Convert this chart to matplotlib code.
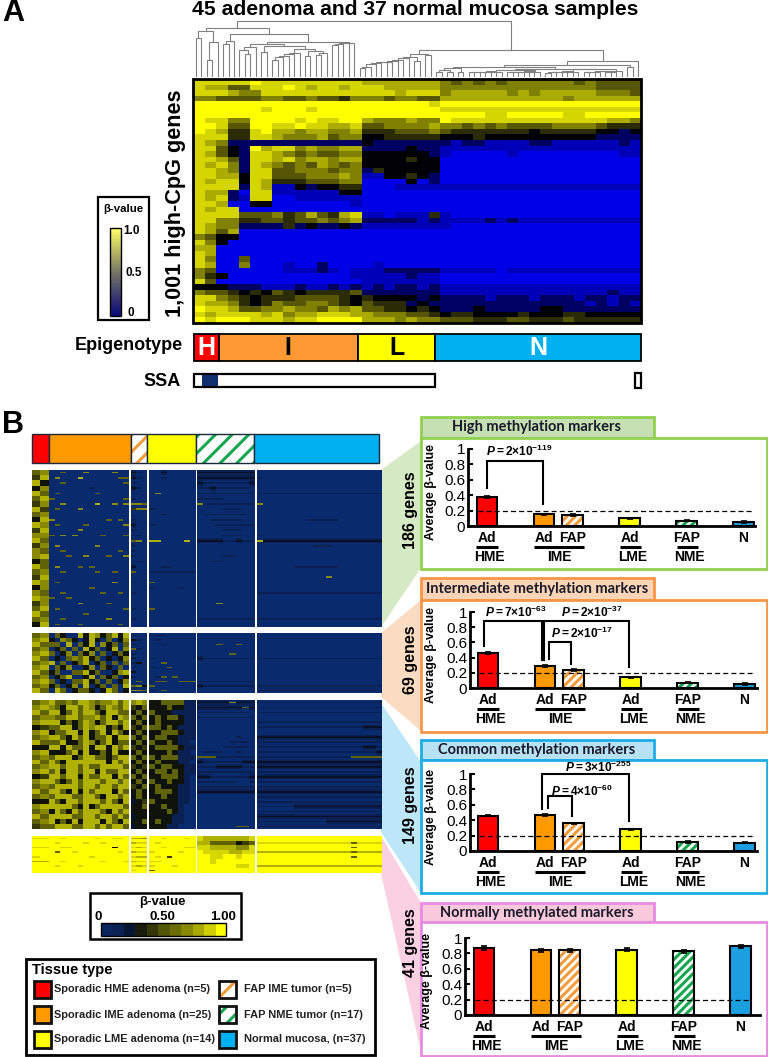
import numpy as np
import matplotlib
matplotlib.use('Agg')
import matplotlib.pyplot as plt
from matplotlib.colors import LinearSegmentedColormap
from matplotlib.patches import Rectangle, Polygon
from matplotlib.transforms import blended_transform_factory

plt.rcParams['font.family'] = ['Liberation Sans', 'DejaVu Sans']
plt.rcParams['mathtext.fontset'] = 'custom'
plt.rcParams['mathtext.rm'] = 'Liberation Sans:bold'
plt.rcParams['mathtext.it'] = 'Liberation Sans:italic:bold'
plt.rcParams['mathtext.bf'] = 'Liberation Sans:bold'
plt.rcParams['hatch.linewidth'] = 2.2

# Bar values
bar_labels = ['Ad', 'Ad', 'FAP', 'Ad', 'FAP', 'N']
group_labels = ['HME', 'IME', 'LME', 'NME']
high_vals = [0.38, 0.15, 0.14, 0.10, 0.07, 0.05]
inter_vals = [0.46, 0.29, 0.24, 0.14, 0.07, 0.05]
common_vals = [0.46, 0.47, 0.36, 0.28, 0.12, 0.11]
normal_vals = [0.87, 0.84, 0.84, 0.85, 0.83, 0.89]
high_errs = [0.01, 0.01, 0.01, 0.01, 0.01, 0.01]
normal_errs = [0.02, 0.02, 0.02, 0.02, 0.02, 0.02]

legend_labels = ['Sporadic HME adenoma (n=5)', 'Sporadic IME adenoma (n=25)', 'Sporadic LME adenoma (n=14)',
                 'FAP IME tumor (n=5)', 'FAP NME tumor (n=17)', 'Normal mucosa, (n=37)']

# Heatmap A, coarse reading of the picture, 0 = blue, 9 = yellow
# columns: H, I, L, N
heat_a = [
    "88 8889888888888 7777777 656565666666565555",
    "87 7558889878878 8877777 666666666666665555",
    "88 8766888888888 8887888 677777676777776665",
    "66 5555665565546 6656655 777777777776777777",
    "99 9999999999999 9999998 999999999999999999",
    "99 9999899989999 9999999 888888888888888888",
    "99 9999999999999 9999999 999988999998899999",
    "98 8669999898899 7666766 988888888888888776",
    "99 8559988988778 5566667 665656555566665444",
    "98 7448977677667 4445556 544444443444443323",
    "88 8448876667566 3344444 333433333333332222",
    "87 6222222222222 3222222 212211112211111121",
    "88 5329788676677 2222322 111111111111111111",
    "87 5328876565566 3333332 100000100000000011",
    "88 7528878677677 3333433 000000000000000000",
    "87 8628765657656 3333333 000000000000000000",
    "88 7628855666566 2433333 000000000000000000",
    "88 7738855566676 1133432 000000000000000000",
    "87 8838744455566 0000302 000000000000000000",
    "88 8828711323344 0001111 111111111111111111",
    "87 7208811111133 0000000 000000000000000000",
    "87 8218800111111 0000000 000000000000000000",
    "88 7003300000001 0000000 000000000000000000",
    "87 8800000000000 0000000 000000000000000000",
    "88 8855564575478 1101114 100000000000000000",
    "88 6644554556567 2222212 111121211111111111",
    "87 6622224232232 1111111 100000000000000000",
    "87 5700000000000 0000000 000000000000000000",
    "65 3300000000000 0000000 000000000000000000",
    "86 3000000000000 0000000 000000000000000000",
    "77 0000000000000 0000000 000000000000000000",
    "87 0000000000000 0000000 000000000000000000",
    "86 0050000000000 0000000 000000000000000000",
    "87 0060001002000 0100000 000000000000000000",
    "65 0000001112101 1122222 111110111111111111",
    "64 3000000000001 1111211 000000000000000000",
    "85 0000000000000 1111111 000000000000000000",
    "33 3222111211212 1212212 111111111111111111",
    "65 5434354344445 2222222 111111111111111211",
    "88 6543444555543 4333323 222212221222122122",
    "87 7643465566543 5444232 222222222222212121",
    "98 8755667665767 5544343 222322222332222222",
    "87 8888786778887 7666554 344333343334433333",
    "98 9998887889999 7776766 555444554445444444",
]

# Heatmap B blocks, columns: HME, IME, FAP IME, LME, FAP NME, normal
block_high = [
    "56 00500060000600 210 00200000 222222222 00000000000000000000",
    "47 06000700000055 210 00100000 222222222 10000000000000000000",
    "73 00500000000005 100 00000000 211111112 00000000000000000000",
    "36 00000001000000 210 00000000 112111110 00000000000000000000",
    "75 05000000500000 000 06000000 111111111 11111111111111111111",
    "57 50000000000005 100 00000000 111100000 00000000000000000000",
    "46 00600000700606 665 00000000 611111111 60000000000000000000",
    "74 05000600000000 466 10000000 000011100 00000000000000000000",
    "56 00000000000000 000 00100000 011111110 00000000000000000000",
    "37 60000000005050 100 00000000 001111100 00000000111110000000",
    "76 05000050000006 200 10000000 000111111 00000000000000000000",
    "47 00000600000000 100 00000000 000011100 00000000000000000000",
    "66 50606000050005 110 00000000 000011100 10000000000000000000",
    "75 00000000000000 560 77000070 222211211 72222222222222222222",
    "46 06000000600000 100 00000000 000000000 00000000011100000000",
    "65 00500000000050 100 00000000 000000000 00000000000000000000",
    "67 00050060005006 100 00000000 000011000 00000000000000000000",
    "35 00000000000000 111 00000000 001100000 00000000000000000000",
    "75 06000505000000 200 00110000 000000000 00000011111110000000",
    "56 00500000500500 500 11111111 000000000 00000000000000000000",
    "47 00000000000000 000 00000000 000000000 00000000000600000000",
    "76 05000000000600 100 50000000 000000000 00000000000000000000",
    "36 00000005000000 000 10000100 000000000 00000000000000000000",
    "65 00500000050050 100 00000000 000000000 11111111111111111111",
    "76 50050000000000 000 00000000 000000000 00000000000000000000",
    "46 00000600005000 000 00000000 000600000 00000000000000000000",
    "57 05000000000005 100 50000000 000000000 00000000000000000000",
    "75 00000050000000 000 00000000 000000000 00000000000000000000",
    "56 00500000006000 100 00000000 111111111 11111111111111111111",
    "37 05000500000050 000 00000000 000000000 00000000000000000000",
]
block_inter = [
    "56 05300737635737 100 11100000 000000000 00000000000000000000",
    "67 30653027305036 310 01000000 000000000 00000000000000000000",
    "75 55070537063505 100 00100000 000500500 00000000000000000000",
    "56 03505073503706 510 00000000 000000000 00000000000000000000",
    "67 50360536050353 100 00000000 000005000 00000000000000000000",
    "75 03056573503036 300 10000000 211111111 11111111111111111111",
    "56 70503570350505 130 00500000 000000000 00000000000000000000",
    "67 05360036053050 100 10050000 000000000 00000000000000000000",
    "75 35005573500367 300 00000000 000000000 00000000000000000000",
    "56 03570037053503 100 01505000 000000000 00000000000000000000",
    "67 50305573505036 050 15500555 111111111 00000000000000000000",
    "56 35036070350507 563 50000000 211111111 11111111111111111111",
    "75 07503553037503 665 10500000 000000000 11111111111111111111",
]
block_common = [
    "56 75565776566757 676 33555511 222226222 11111111111111111111",
    "67 65377576357657 435 33353311 222222252 11111111111111111111",
    "75 77357577537755 353 53331111 111111110 11111111111111111111",
    "56 65577566757376 535 35355311 111111111 00000000000000000000",
    "67 77353576357757 353 35333311 000000000 11111111111111111111",
    "34 55773576773537 435 55353111 000000000 11111111111111111222",
    "67 35577373573753 353 33555311 000000000 00000000000000000000",
    "56 77537573557377 535 35533111 000000100 22222222222222222222",
    "75 55733576357355 353 53353110 000001110 11111111111111111111",
    "33 77375573773757 434 35555311 000011110 11111111111111111221",
    "67 33357373353733 353 33353110 011100100 11111111111111111112",
    "56 57773577553577 535 53555111 555111111 11111111111111155555",
    "75 75377777773757 353 35333110 211111122 22222222222222222222",
    "56 77577575577775 434 53553311 111222211 22222222222222222222",
    "67 57377577375577 353 35535311 111111111 11111111111111111111",
    "34 77577375577375 535 33555310 221111112 22222222222222222222",
    "67 75357577757757 353 53353310 111111001 11111111111111111111",
    "56 57777577577577 435 35333110 111111111 11111111111111111111",
    "75 77537375777375 353 35553110 222222222 22222222222222222222",
    "56 57775577537757 353 33533110 000000000 11111111111111111111",
    "33 75377577757537 234 53333110 000000000 11111111111111111111",
    "67 77775373577775 335 33533100 000000000 11111122222222222222",
    "56 37537577753757 333 33353100 000000000 11111111111111111111",
    "75 77775577577575 233 33331100 000000000 22222222222222222222",
    "56 73537377737537 335 35331100 000000000 11111111111222222222",
    "45 57775577575775 233 33311000 000000550 11111111111111111111",
]
block_normal = [
    "88 99899999899889 776 99899989 877777778 99999999999999999999",
    "99 98999989989999 788 98999999 775555345 88888888888888858888",
    "88 99889999999399 878 99899988 887777668 99999999999999959999",
    "99 95998999999989 788 89999899 988887788 77777777777777757777",
    "89 99999998999999 877 98949999 998899899 99999999999999959999",
    "77 99899999989998 788 88999999 998999999 99999999999999999999",
    "99 98999899999999 878 89998999 999999889 77777777777777777777",
    "99 99999999999999 899 59999999 999999999 99999999999999999999",
]


# Dendrogram as a nested tree, heights in picture units, leaves are 0
def comb(heights):
    node = (heights[0], 0, 0)
    for h in heights[1:]:
        node = (h, node, 0)
    return node


tree_h = (136, (115, 0, 0), (101, (48, 0, 0), 0))
tree_i1 = (105, (95, 0, 0), 0)
tree_i2 = (87, (78, 0, (66, 0, 0)), 0)
tree_i3 = (90, (71, 0, 0), (80, comb([48, 58, 61, 65, 68]), (75, (61, 0, 0), (70, (63, 0, 0), 0))))
tree_i4 = comb([92, 95, 98, 100])
tree_i = (125, tree_i1, (103, (97, tree_i2, tree_i3), tree_i4))
tree_adn = (145, tree_h, tree_i)
tree_l = comb([23, 28, 35, 38, 41, 43, 45, 48, 53])
tree_l = (65, (58, tree_l, (45, 0, 0)), (63, 0, 0))
tree_n1 = (25, (18, (11, 0, 0), (13, 0, 0)), (13, 0, 0))
tree_n2 = comb([11, 12, 13, 12, 14, 13])
tree_n3 = comb([11, 13, 11, 12, 14, 13])
tree_n4 = comb([10, 12, 11, 13, 15, 12])
tree_n5 = comb([11, 12, 13, 15, 16, 12, 14])
tree_n6 = (22, (19, tree_n2, tree_n3), (21, tree_n4, tree_n5))
tree_n = (45, (33, (26, tree_n1, tree_n6), (28, 0, 0)), 0)
tree_b = (78, tree_l, tree_n)
tree_root = (166, tree_adn, tree_b)

W, H = 768, 1057
fig = plt.figure(figsize=(W / 100, H / 100), dpi=100)
ax = fig.add_axes([0, 0, 1, 1])
ax.set_axis_off()

cmap_a = LinearSegmentedColormap.from_list('bky', [(0, '#0000e6'), (0.12, '#0000b4'), (0.33, '#000008'), (1, '#ffff00')])
cmap_b = LinearSegmentedColormap.from_list('nky', [(0, '#0a2a6e'), (0.12, '#0a2050'), (0.3, '#05080c'), (1, '#ffff00')])


def grid(rows, group=None):
    parts = [r.split() for r in rows]
    if group is None:
        return np.array([[int(c) for c in ''.join(p)] for p in parts])
    return np.array([[int(c) for c in p[group]] for p in parts])


def thin_rows(cells, base=0):
    # streaks in the picture are about a third of a typed row tall
    out = []
    for row in cells:
        low = np.where(row == 2, 1, base)
        out.extend([low, row, low])
    return np.array(out)


# Panel A
ax.imshow(grid(heat_a), cmap=cmap_a, vmin=0, vmax=9, aspect='auto', extent=(194, 641, 323, 79),
          interpolation='nearest', zorder=2)
ax.add_patch(Rectangle((193, 79), 448, 244, fill=False, ec='black', lw=2, zorder=3))


def draw_tree(node):
    if node == 0:
        x = draw_tree.next_x
        draw_tree.next_x += 448 / 82
        return x, 0
    h, left, right = node
    x1, h1 = draw_tree(left)
    x2, h2 = draw_tree(right)
    y = 76 - h / 3
    ax.plot([x1, x1, x2, x2], [76 - h1 / 3, y, y, 76 - h2 / 3], color='#808080', lw=0.8, solid_joinstyle='miter')
    return (x1 + x2) / 2, h


draw_tree.next_x = 193 + 448 / 164
draw_tree(tree_root)

ax.text(415, 9.5, '45 adenoma and 37 normal mucosa samples', ha='center', va='center', fontsize=15.2, fontweight='bold')
ax.text(2, 13, 'A', ha='left', va='center', fontsize=22, fontweight='bold')
ax.text(2, 425, 'B', ha='left', va='center', fontsize=22, fontweight='bold')
ax.text(175, 203, '1,001 high-CpG genes', rotation=90, ha='center', va='center', fontsize=15.6, fontweight='bold')

# small colour key of panel A
ax.add_patch(Rectangle((98, 197), 51, 123, fc='white', ec='black', lw=1.6))
ax.text(123.5, 209, '\u03b2-value', ha='center', va='center', fontsize=8.2, fontweight='bold')
ax.imshow(np.linspace(1, 0, 64).reshape(-1, 1), aspect='auto', extent=(110, 121, 316, 228),
          cmap=LinearSegmentedColormap.from_list('k', ['#0a0a7a', '#777766', '#ffff66']), zorder=2)
ax.add_patch(Rectangle((110, 228), 11, 88, fill=False, ec='black', lw=1, zorder=3))
ax.text(123, 231, '1.0', ha='left', va='center', fontsize=8.5, fontweight='bold')
ax.text(125, 273, '0.5', ha='left', va='center', fontsize=8.5, fontweight='bold')
ax.text(127, 313, '0', ha='left', va='center', fontsize=8.5, fontweight='bold')

# epigenotype bar
ax.add_patch(Rectangle((194, 334), 25, 27, fc='#ff0000', ec='black', lw=1.3))
ax.add_patch(Rectangle((219, 334), 139, 27, fc='#ff9933', ec='black', lw=1.3))
ax.add_patch(Rectangle((358, 334), 77, 27, fc='#ffff00', ec='black', lw=1.3))
ax.add_patch(Rectangle((435, 334), 206, 27, fc='#00b0f0', ec='black', lw=1.3))
for lab, x, col in [('H', 206.5, 'white'), ('I', 288, 'black'), ('L', 397, 'black'), ('N', 538, 'white')]:
    ax.text(x, 348, lab, ha='center', va='center', fontsize=18, fontweight='bold', color=col)
ax.text(183, 346, 'Epigenotype', ha='right', va='center', fontsize=13, fontweight='bold')
ax.text(181, 382, 'SSA', ha='right', va='center', fontsize=13, fontweight='bold')
ax.add_patch(Rectangle((194, 374), 241, 13, fc='white', ec='black', lw=1.6))
ax.add_patch(Rectangle((202, 375), 16, 11, fc='#0f2f6f', ec='none'))
ax.add_patch(Rectangle((635, 373), 6, 15, fc='white', ec='black', lw=1.6))

# Panel B top bar
tops = [(31.5, 49, '#ff0000', None), (49, 131, '#ff9900', None), (131, 147, 'white', '#f39c3c'),
        (147, 196, '#ffff00', None), (196, 254, 'white', '#15a650'), (254, 379, '#00b0f0', None)]
for x1, x2, col, hatch_col in tops:
    if hatch_col:
        ax.add_patch(Rectangle((x1, 434), x2 - x1, 29, fc='white', ec=hatch_col, lw=0, hatch='//'))
        ax.add_patch(Rectangle((x1, 434), x2 - x1, 29, fill=False, ec='#1a2a3a', lw=1))
    else:
        ax.add_patch(Rectangle((x1, 434), x2 - x1, 29, fc=col, ec='#1a2a3a', lw=1))

# Panel B heatmap blocks
group_edges = [(31.5, 48), (49, 128.5), (131, 147), (148.5, 195), (197, 254.5), (256.5, 381)]
blocks = [(block_high, 470, 627, [1, 2, 3, 4, 5], 0), (block_inter, 633, 693, [2, 3, 4, 5], 0),
          (block_common, 700, 829, [4, 5], 0), (block_normal, 836, 873, [0, 1, 2, 3, 5], 9)]
for rows, y1, y2, thin_groups, base in blocks:
    for g, (x1, x2) in enumerate(group_edges):
        cells = grid(rows, g)
        if g in thin_groups:
            cells = thin_rows(cells, base)
        ax.imshow(cells, cmap=cmap_b, vmin=0, vmax=9, aspect='auto', extent=(x1, x2, y2, y1),
                  interpolation='nearest', zorder=2)

# wedges from blocks to the panels
wedges = [([(381, 470), (421, 441), (421, 568), (381, 627)], '#d5e9c5'),
          ([(381, 633), (421, 600), (421, 731), (381, 697)], '#fbdcc2'),
          ([(381, 703), (421, 762), (421, 893), (381, 832)], '#bde6f8'),
          ([(381, 836), (421, 903), (421, 1052), (381, 873)], '#fbd0e0')]
for pts, col in wedges:
    ax.add_patch(Polygon(pts, closed=True, fc=col, ec='none', zorder=1))

# beta-value key of panel B
ax.add_patch(Rectangle((90, 893), 151, 46, fc='white', ec='black', lw=1.8))
ax.text(162, 902, '\u03b2-value', ha='center', va='center', fontsize=9.5, fontweight='bold')
ax.text(98, 917, '0', ha='center', va='center', fontsize=9.5, fontweight='bold')
ax.text(162, 917, '0.50', ha='center', va='center', fontsize=9.5, fontweight='bold')
ax.text(223, 917, '1.00', ha='center', va='center', fontsize=9.5, fontweight='bold')
key_colours = np.array([[0.5, 0.9, 1.7, 3.2, 3.9, 4.7, 5.3, 6.0, 6.8, 7.8, 9.0]])
ax.imshow(key_colours, cmap=cmap_b, vmin=0, vmax=9, aspect='auto', extent=(100.5, 226, 936, 923), zorder=2)
ax.add_patch(Rectangle((100.5, 923), 125.5, 13, fill=False, ec='black', lw=1, zorder=3))

# tissue legend
ax.add_patch(Rectangle((26, 959), 349, 96, fc='white', ec='black', lw=2))
ax.text(32, 970, 'Tissue type', ha='left', va='center', fontsize=10.5, fontweight='bold')
swatches = [('#ff0000', None), ('#ff9900', None), ('#ffff00', None), ('white', '#f39c3c'), ('white', '#15a650'),
            ('#00b0f0', None)]
for i, (lab, (col, hatch_col)) in enumerate(zip(legend_labels, swatches)):
    sx = 33.5 if i < 3 else 219
    sy = 981 + 25 * (i % 3)
    tx = 54 if i < 3 else 243.5
    ax.add_patch(Rectangle((sx, sy), 17, 17, fc=col, ec=hatch_col if hatch_col else 'none', lw=0,
                           hatch='//' if hatch_col else None))
    ax.add_patch(Rectangle((sx, sy), 17, 17, fill=False, ec='#111111', lw=2))
    ax.text(tx, sy + 8.5, lab, ha='left', va='center', fontsize=7.9, fontweight='bold', color='#222222')

# Bar panels
panels = [
    dict(name='High methylation markers', col='#92d050', tab='#c6e0b4', tab_y=417, box_y=438, box_h=131, genes='186 genes',
         gene_y=510, vals=high_vals, errs=high_errs, y0=526, y1=449, x0=487, xl=468, xr=755, ly=431,
         brackets=[([0, 0, 1.98, 1.98], [0.5, 0.85, 0.85, 0.29])],
         pvals=[(-0.05, 0.97, r'$\mathit{P}\mathrm{{=}2{\times}10^{-119}}$')]),
    dict(name='Intermediate methylation markers', col='#f79646', tab='#fbd5b5', tab_y=578, box_y=600, box_h=132, genes='69 genes',
         gene_y=660, vals=inter_vals, errs=high_errs, y0=688, y1=612, x0=488, xl=470, xr=757, ly=431,
         brackets=[([-0.14, -0.14, 1.89, 1.89], [0.55, 0.88, 0.88, 0.37]),
                   ([1.98, 1.98, 4.93, 4.93], [0.37, 0.88, 0.88, 0.28]),
                   ([2.14, 2.14, 2.9, 2.9], [0.38, 0.6, 0.6, 0.31])],
         pvals=[(-0.1, 0.99, r'$\mathit{P}\mathrm{{=}7{\times}10^{-63}}$'),
                (2.55, 0.99, r'$\mathit{P}\mathrm{{=}2{\times}10^{-37}}$'),
                (2.2, 0.72, r'$\mathit{P}\mathrm{{=}2{\times}10^{-17}}$')]),
    dict(name='Common methylation markers', col='#1cade4', tab='#b7e1f5', tab_y=740, box_y=760, box_h=133, genes='149 genes',
         gene_y=805, vals=common_vals, errs=high_errs, y0=851, y1=774, x0=488, xl=470, xr=757, ly=431,
         brackets=[([1.89, 1.89, 4.96, 4.96], [0.55, 1.0, 1.0, 0.39]),
                   ([2.11, 2.11, 2.96, 2.96], [0.56, 0.71, 0.71, 0.46])],
         pvals=[(2.7, 1.09, r'$\mathit{P}\mathrm{{=}3{\times}10^{-255}}$'),
                (2.2, 0.78, r'$\mathit{P}\mathrm{{=}4{\times}10^{-60}}$')]),
    dict(name='Normally methylated markers', col='#e88be0', tab='#fbc9dc', tab_y=903, box_y=922, box_h=134, genes='41 genes',
         gene_y=943, vals=normal_vals, errs=normal_errs, y0=1015, y1=938, x0=484, xl=465, xr=760, ly=427,
         brackets=[], pvals=[]),
]
bar_pos = [0, 2, 3, 5, 7, 9]
bar_cols = ['#ff0000', '#ff9900', 'white', '#ffff00', 'white', '#1c9fe0']
bar_hatch = [None, None, '#f39c3c', None, '#15a650', None]
groups = [(-0.4, 0.4, 0.1), (1.65, 3.4, 2.55), (4.65, 5.4, 5.1), (6.65, 7.4, 7.1)]

for p in panels:
    ax.add_patch(Rectangle((421, p['tab_y']), 233, p['box_y'] - p['tab_y'], fc=p['tab'], ec=p['col'], lw=2, zorder=2))
    ax.text(537, (p['tab_y'] + p['box_y']) / 2, p['name'], ha='center', va='center', fontsize=10.5, fontweight='bold',
            family=['Lato', 'DejaVu Sans'], color='#1a1a2a', zorder=4)
    ax.add_patch(Rectangle((421, p['box_y']), 345.5, p['box_h'], fc='white', ec=p['col'], lw=2, zorder=2))
    ax.text(411, p['gene_y'], p['genes'], rotation=90, ha='center', va='center', fontsize=11.5, fontweight='bold', zorder=4)

    step = 28.5
    b = fig.add_axes([p['xl'] / W, 1 - p['y0'] / H, (p['xr'] - p['xl']) / W, (p['y0'] - p['y1']) / H])
    b.patch.set_alpha(0)
    b.set_xlim((p['xl'] - p['x0']) / step, (p['xr'] - p['x0']) / step)
    b.set_ylim(0, 1)
    for x, v, e, c, hc in zip(bar_pos, p['vals'], p['errs'], bar_cols, bar_hatch):
        if hc:
            b.bar(x, v, width=0.72, color='white', edgecolor=hc, linewidth=0, hatch='////')
            b.bar(x, v, width=0.72, fill=False, edgecolor='black', linewidth=1.5)
        else:
            b.bar(x, v, width=0.72, color=c, edgecolor='black', linewidth=1.5)
        b.errorbar(x, v, yerr=e, color='black', capsize=2.5, lw=1.2, capthick=1.2)
    b.plot([-0.3, 9.35], [0.2, 0.2], color='black', ls='--', lw=0.9, dashes=(4, 2.5), zorder=5)
    for xs, ys in p['brackets']:
        b.plot(xs, ys, color='black', lw=1.5, clip_on=False, solid_joinstyle='miter', zorder=6)
    for x, y, s in p['pvals']:
        b.text(x, y, s, ha='left', va='center', fontsize=8.6, clip_on=False, zorder=7)
    for s in ['top', 'right']:
        b.spines[s].set_visible(False)
    b.spines['left'].set_linewidth(2)
    b.spines['bottom'].set_linewidth(2)
    b.set_xticks([])
    b.set_yticks([0, 0.2, 0.4, 0.6, 0.8, 1])
    b.set_yticklabels(['0', '0.2', '0.4', '0.6', '0.8', '1'], fontsize=11)
    b.tick_params(axis='y', direction='in', length=3.5, width=1.5, pad=2)
    for x, lab in zip(bar_pos, bar_labels):
        b.text(x, -12 / 77, lab, ha='center', va='center', fontsize=10, fontweight='bold', clip_on=False)
    for (x1, x2, xc), lab in zip(groups, group_labels):
        b.plot([x1, x2], [-21 / 77, -21 / 77], color='black', lw=2.2, clip_on=False, solid_capstyle='butt')
        b.text(xc, -31 / 77, lab, ha='center', va='center', fontsize=10, fontweight='bold', clip_on=False)
    b.text(p['ly'], 0.44, 'Average \u03b2-value', rotation=90, ha='center', va='center', fontsize=9, fontweight='bold',
           transform=blended_transform_factory(ax.transData, b.transAxes))

ax.set_xlim(0, W)
ax.set_ylim(H, 0)
fig.savefig('out.png', dpi=100)
